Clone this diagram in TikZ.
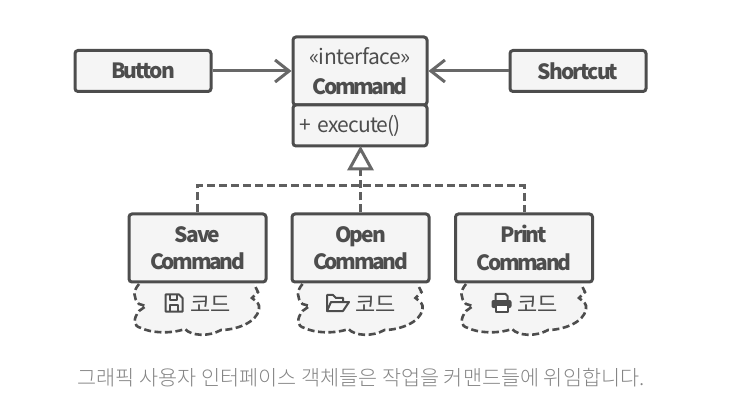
\documentclass[tikz,border=0pt]{standalone}
\usepackage{fontspec}
\setmainfont{Noto Sans CJK KR}
\newfontfamily\lightkr{Noto Sans CJK KR Light}
\usetikzlibrary{arrows.meta}
\definecolor{ln}{HTML}{4D4D4D}
\definecolor{fl}{HTML}{F5F5F5}
\definecolor{cap}{HTML}{858585}
\newcommand{\tightb}{\addfontfeature{LetterSpace=-9}}
\newcommand{\tightc}{\addfontfeature{LetterSpace=-11.5}}
\newcommand{\tightr}{\addfontfeature{LetterSpace=-2}}
\newcommand{\tighte}{\addfontfeature{LetterSpace=-4}}
\tikzset{x=1pt,y=-1pt,
 box/.style={draw=ln,fill=fl,line width=3pt,rounded corners=3pt,minimum height=41pt,inner sep=0pt,align=center,font=\fontsize{21}{28}\selectfont\bfseries\tightb,text=ln},
 conn/.style={draw=ln!85,line width=3pt},
 dashline/.style={draw=ln!90,line width=3pt,dash pattern=on 8pt off 4pt},
 cloudp/.style={draw=ln,fill=fl,line width=2.6pt,dash pattern=on 7pt off 3.5pt,line cap=butt},
 icon/.style={draw=ln,line width=2pt,line join=round},
 kor/.style={font=\fontsize{22}{24}\selectfont,text=ln,inner sep=0pt},
}
\newcommand{\cloudshape}[1]{%
 \begin{scope}[shift={(#1,0)}]
 \path[cloudp] (-58,284) .. controls (-64,291) and (-64,298) .. (-58,304) -- (-51,306) -- (-58,311)
  .. controls (-64,319) and (-64,326) .. (-56,328)
  .. controls (-46,333) and (-26,334) .. (-12,329)
  .. controls (-6,336) and (12,337) .. (24,330)
  .. controls (38,330) and (60,323) .. (62,309)
  .. controls (63,304) and (60,302) .. (55,298) -- (61,292) -- (57,284);
 \end{scope}}
\begin{document}
\begin{tikzpicture}
\useasboundingbox (0,0) rectangle (738,411);
% clouds
\cloudshape{197}\cloudshape{360.5}\cloudshape{524}
% boxes
\node[box,minimum width=136pt] (button) at (143,71) {\raisebox{-1pt}{Button}};
\node[box,minimum width=136pt] (shortcut) at (578,71) {\raisebox{-1pt}{Shortcut}};
\node[box,minimum width=134pt,minimum height=68pt,font=\fontsize{21}{30}\selectfont\bfseries\tightb] (cmd) at (360,71) {\raisebox{-1.5pt}{\mdseries\tightr «interface»}\\[0pt]\raisebox{-1.5pt}{\tightc Command}};
\node[box,minimum width=134pt,minimum height=41pt,font=\fontsize{21}{28}\selectfont\tighte,text width=122pt,align=left] (exec) at (360,125.5) {\raisebox{-1pt}{+ execute()}};
\node[box,minimum width=137pt,minimum height=68pt] (save) at (197.5,248) {\raisebox{-1.5pt}{Save}\\\raisebox{-1pt}{\tightc Command}};
\node[box,minimum width=137pt,minimum height=68pt] (open) at (360.5,248) {\raisebox{-1.5pt}{Open}\\\raisebox{-1pt}{\tightc Command}};
\node[box,minimum width=137pt,minimum height=68pt] (print) at (524,248) {\raisebox{-1.5pt}{Print}\\\raisebox{-1pt}{\tightc Command}};
% connectors
\coordinate (tri) at (360.5,169);
\coordinate (bus) at (360.5,186);
\draw[conn,-{Straight Barb[length=14pt,width=22pt,line width=3pt]}] (button) -- (cmd);
\draw[conn,-{Straight Barb[length=14pt,width=22pt,line width=3pt]}] (shortcut) -- (cmd);
\draw[dashline] (save.north) -- (save.north |- bus) -- (print.north |- bus) -- (print.north);
\draw[dashline] (open.north) -- (tri);
\draw[draw=ln!85,line width=3pt,fill=white,line join=miter] (tri) -- (349.5,169) -- (360.5,149) -- (371.5,169) -- cycle;
% code labels
\node[kor,anchor=west] (k1) at (190,304) {코드};
\node[kor,anchor=west] (k2) at (355,304) {코드};
\node[kor,anchor=west] (k3) at (517,304) {코드};
% floppy
\begin{scope}[shift={(174,303)}]
 \path[icon] (-8.5,-8.5) -- (5,-8.5) -- (8.5,-5) -- (8.5,8.5) -- (-8.5,8.5) -- cycle;
 \path[icon] (-4,-8.5) -- (-4,-3) -- (3,-3) -- (3,-8.5);
 \path[icon] (-4,8.5) -- (-4,2) -- (4,2) -- (4,8.5);
\end{scope}
% folder
\begin{scope}[shift={(337,303)}]
 \path[icon] (-10,8) -- (-10,-8) -- (-4,-8) -- (-1,-5) -- (6,-5) -- (6,-1);
 \path[icon] (-10,8) -- (-6,-1) -- (12,-1) -- (6,8) -- cycle;
\end{scope}
% printer
\begin{scope}[shift={(501.5,303)}]
 \fill[ln,rounded corners=2pt] (-10,-3) rectangle (10,5);
 \path[icon] (-6,-3) -- (-6,-9) -- (4,-9) -- (6,-7) -- (6,-3);
 \path[icon,fill=white] (-6,2) rectangle (6,8.5);
\end{scope}
% caption
\node[text=cap,font=\lightkr\fontsize{20.75}{24}\selectfont,inner sep=0pt] (caption) at (361,378) {그래픽 사용자 인터페이스 객체들은 작업을 커맨드들에 위임합니다.};
\end{tikzpicture}
\end{document}
